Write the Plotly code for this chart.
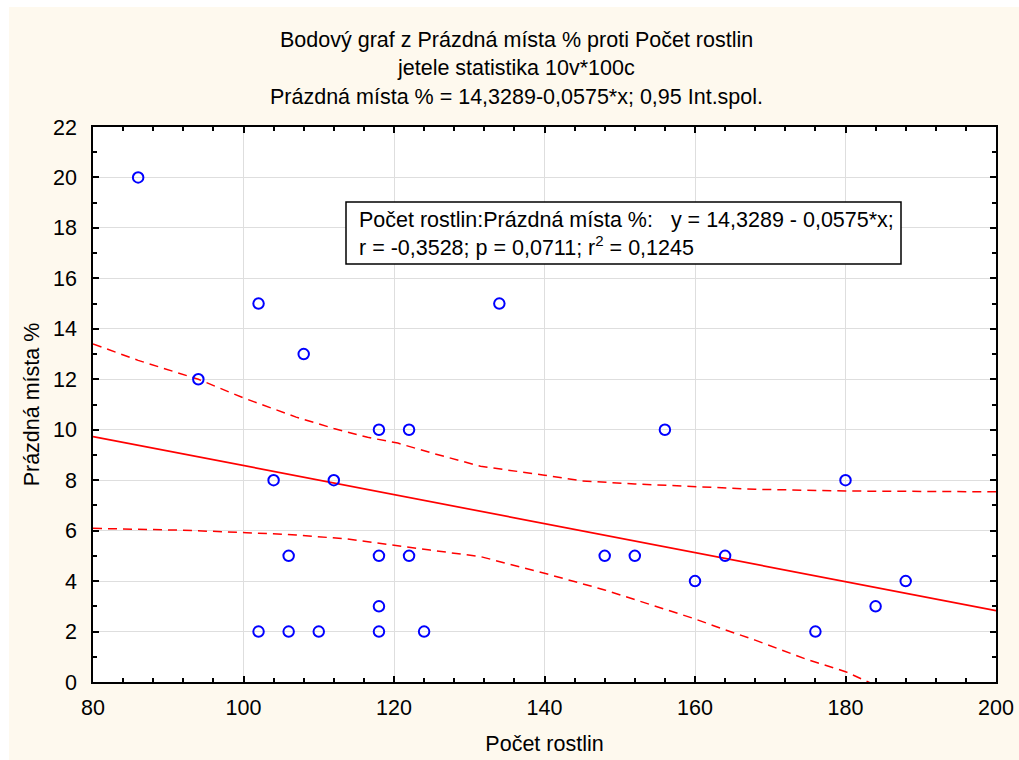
import plotly.graph_objects as go

# Data: Počet rostlin (x) vs Prázdná místa % (y)
pocet_rostlin = [86, 94, 102, 104, 106, 102, 106, 108, 110, 112, 118, 118, 118, 118,
                 122, 122, 124, 134, 148, 152, 156, 160, 164, 176, 180, 184, 188]
prazdna_mista = [20, 12, 15, 8, 5, 2, 2, 13, 2, 8, 10, 5, 3, 2,
                 10, 5, 2, 15, 5, 5, 10, 4, 5, 2, 8, 3, 4]

# Regression line
intercept = 14.3289
slope = -0.0575
line_x = [80, 200]

# 0,95 confidence band
upper_x = [80, 86, 94, 100, 107, 112, 116.5, 120.5, 125, 131.5, 140, 145, 152, 160, 168, 180, 191, 200]
upper_y = [13.4, 12.75, 12.0, 11.26, 10.5, 10.05, 9.7, 9.47, 9.08, 8.55, 8.2, 7.97, 7.85, 7.74, 7.64, 7.57, 7.54, 7.54]
lower_x = [80, 91.6, 100.4, 107, 113.7, 120.4, 124.8, 131.5, 140, 148, 155.7, 160, 163.4, 168, 174.8, 180, 183.4, 190]
lower_y = [6.09, 6.02, 5.92, 5.83, 5.67, 5.39, 5.23, 4.97, 4.31, 3.65, 2.92, 2.5, 2.13, 1.66, 0.9, 0.41, -0.05, -1.2]

x_ticks = [80, 100, 120, 140, 160, 180, 200]
y_ticks = [0, 2, 4, 6, 8, 10, 12, 14, 16, 18, 20, 22]

title_lines = ["Bodový graf z Prázdná místa % proti Počet rostlin",
               "jetele statistika 10v*100c",
               "Prázdná místa % = 14,3289-0,0575*x; 0,95 Int.spol."]
box_text = ("Počet rostlin:Prázdná místa %:\u00a0\u00a0\u00a0y = 14,3289 - 0,0575*x;<br>"
            "r = -0,3528; p = 0,0711; r<sup>2</sup> = 0,1245")

FONT = "Arial, Liberation Sans, sans-serif"
CREAM = "#FEF9EE"
FS = 21.5

# plot area in page pixels: x 93..996, y 127..682
def px_x(p):
    return (p - 93) / 903

def px_y(p):
    return (682 - p) / 555

fig = go.Figure()
fig.add_trace(go.Scatter(x=upper_x, y=upper_y, mode="lines",
                         line=dict(color="#FF0000", width=1.5, dash="9px,6px"),
                         hoverinfo="skip", showlegend=False))
fig.add_trace(go.Scatter(x=lower_x, y=lower_y, mode="lines",
                         line=dict(color="#FF0000", width=1.5, dash="9px,6px"),
                         hoverinfo="skip", showlegend=False))
fig.add_trace(go.Scatter(x=line_x, y=[intercept + slope * v for v in line_x], mode="lines",
                         line=dict(color="#FF0000", width=1.7),
                         hoverinfo="skip", showlegend=False))
fig.add_trace(go.Scatter(x=pocet_rostlin, y=prazdna_mista, mode="markers",
                         marker=dict(symbol="circle-open", size=10.5, color="#0000FF",
                                     line=dict(width=2, color="#0000FF")),
                         showlegend=False))

axis_common = dict(
    showline=True, linecolor="black", linewidth=1.5, mirror="ticks",
    ticks="inside", ticklen=6, tickwidth=1.5, tickcolor="black",
    showgrid=True, gridcolor="#DEDEDE", gridwidth=1, zeroline=False,
    automargin=False,
    tickfont=dict(family=FONT, size=FS, color="black"),
)

fig.update_xaxes(range=[80, 200], tickvals=x_ticks,
                 minor=dict(dtick=4, tick0=80, ticks="inside", ticklen=4, tickcolor="black", showgrid=False),
                 title=dict(text="Počet rostlin", font=dict(family=FONT, size=FS, color="black"), standoff=17),
                 ticklabelstandoff=5,
                 **axis_common)
fig.update_yaxes(range=[0, 22], tickvals=y_ticks,
                 minor=dict(dtick=1, tick0=0, ticks="inside", ticklen=4, tickcolor="black", showgrid=False),
                 title=dict(text="Prázdná místa %", font=dict(family=FONT, size=FS, color="black"), standoff=8),
                 ticklabelstandoff=10,
                 **axis_common)

annotations = []
for t, ypx in zip(title_lines, [40, 68, 97]):
    annotations.append(dict(text=t, xref="paper", yref="paper",
                            x=px_x(516), y=px_y(ypx),
                            xanchor="center", yanchor="middle", showarrow=False,
                            font=dict(family=FONT, size=FS, color="black")))
annotations.append(dict(text=box_text, xref="paper", yref="paper",
                        x=px_x(357), y=px_y(234),
                        xanchor="left", yanchor="middle", align="left", showarrow=False,
                        font=dict(family=FONT, size=FS, color="black")))

shapes = [
    # statistics box
    dict(type="rect", xref="paper", yref="paper", layer="above",
         x0=px_x(346), x1=px_x(901), y0=px_y(264), y1=px_y(202),
         fillcolor="white", line=dict(color="black", width=1.5)),
    # white strips outside the cream panel (top and left)
    dict(type="rect", xref="paper", yref="paper", layer="above",
         x0=px_x(-20), x1=px_x(1040), y0=px_y(7), y1=px_y(-20),
         fillcolor="white", line=dict(width=0)),
    dict(type="rect", xref="paper", yref="paper", layer="above",
         x0=px_x(-20), x1=px_x(9), y0=px_y(780), y1=px_y(-20),
         fillcolor="white", line=dict(width=0)),
]

fig.update_layout(
    width=1019, height=760,
    margin=dict(l=93, r=23, t=127, b=78),
    paper_bgcolor=CREAM, plot_bgcolor="white",
    annotations=annotations, shapes=shapes,
    showlegend=False,
    font=dict(family=FONT, color="black"),
)

fig.write_html("out.html", config={"displayModeBar": False},
               post_script="document.body.style.margin='0';document.body.style.overflow='hidden';")
